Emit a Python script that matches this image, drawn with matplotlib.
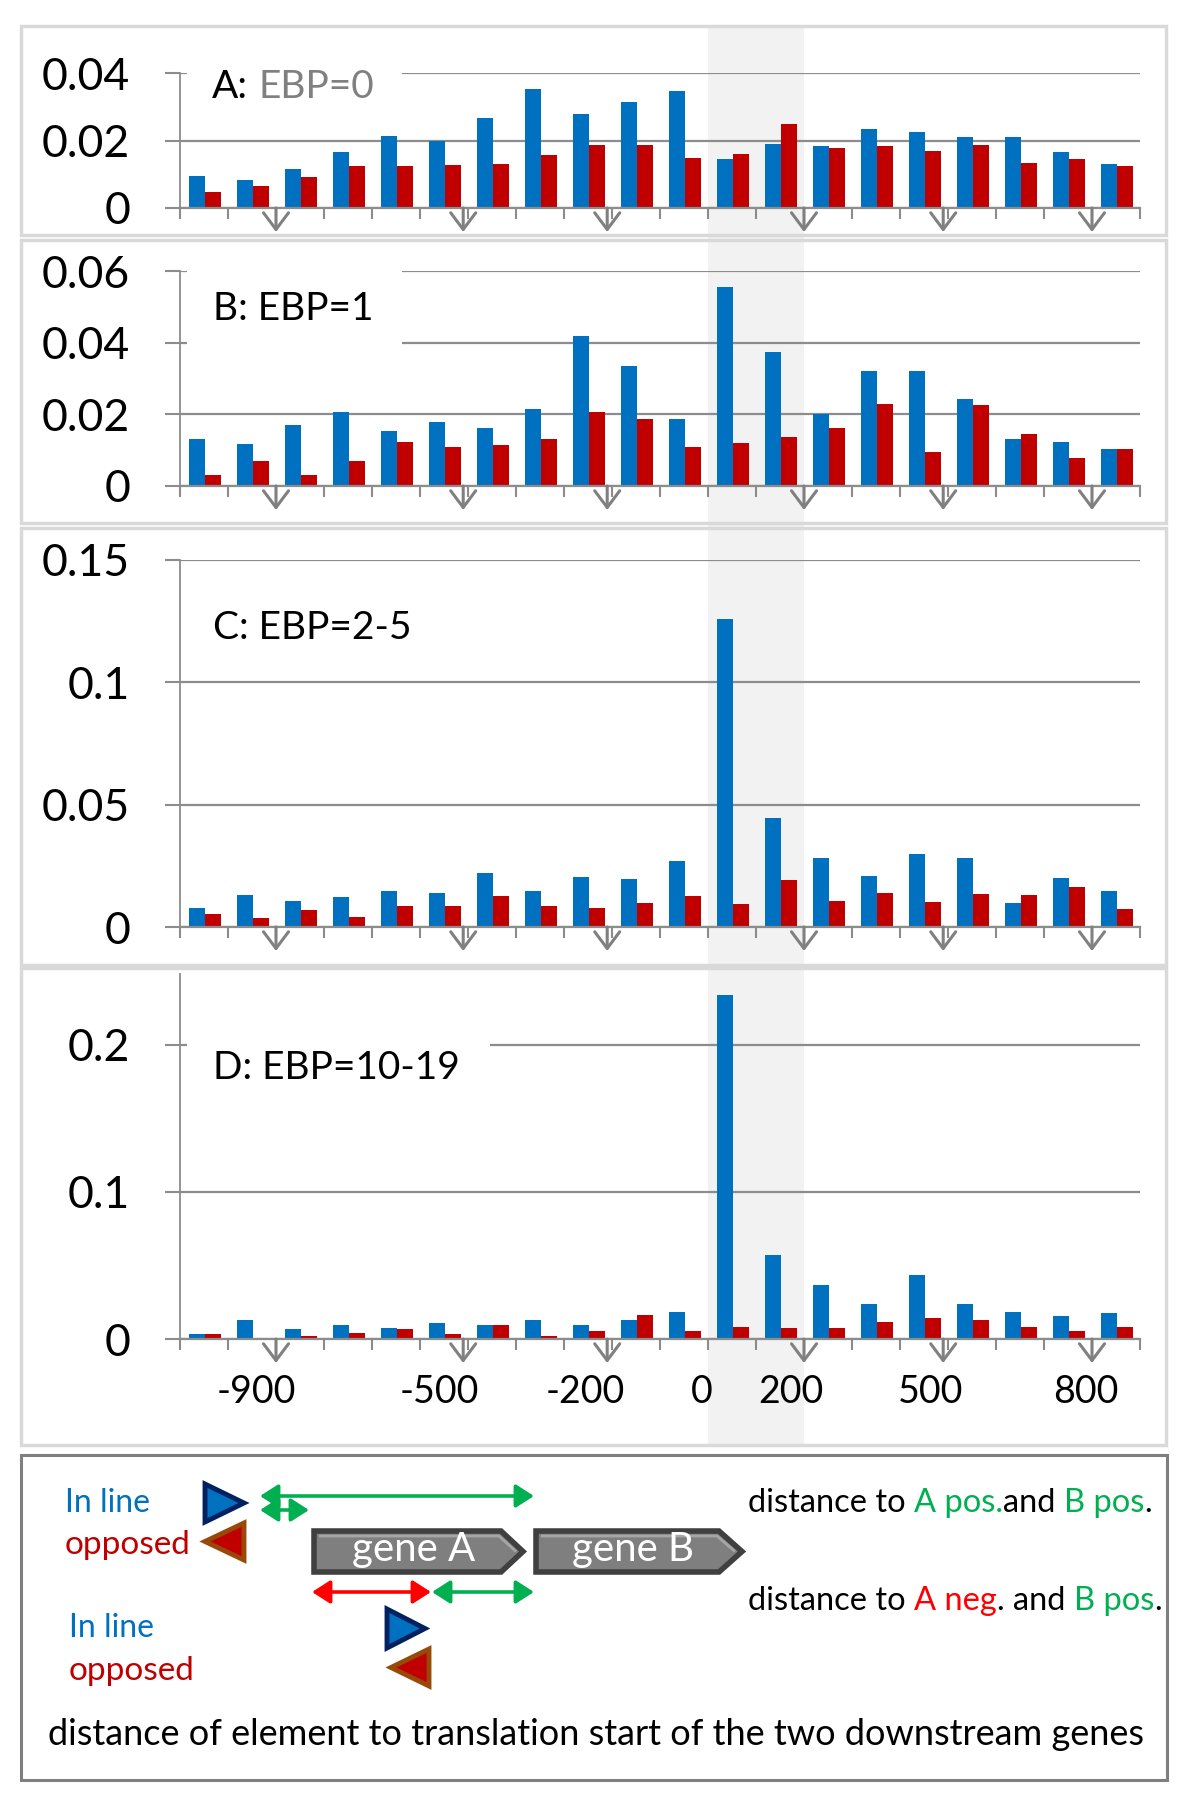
import numpy as np
import matplotlib.pyplot as plt
from matplotlib.patches import Rectangle, Polygon, FancyArrowPatch
from matplotlib.transforms import offset_copy

plt.rcParams['font.family'] = ['Lato', 'DejaVu Sans']

# ---- data (fraction of elements per 100 bp bin) ----
n_bins = 20
inline_A = [0.0095, 0.0084, 0.0116, 0.0167, 0.0214, 0.0198, 0.0266, 0.0352, 0.0278, 0.0314,
            0.0348, 0.0145, 0.0191, 0.0185, 0.0233, 0.0226, 0.0211, 0.0210, 0.0167, 0.0129]
opposed_A = [0.0046, 0.0066, 0.0092, 0.0123, 0.0123, 0.0127, 0.0131, 0.0158, 0.0187, 0.0186,
             0.0149, 0.0159, 0.0249, 0.0178, 0.0185, 0.0170, 0.0187, 0.0134, 0.0145, 0.0125]
inline_B = [0.0131, 0.0118, 0.0171, 0.0207, 0.0153, 0.0180, 0.0162, 0.0215, 0.0418, 0.0335,
            0.0188, 0.0555, 0.0375, 0.0202, 0.0322, 0.0322, 0.0242, 0.0132, 0.0124, 0.0104]
opposed_B = [0.0031, 0.0070, 0.0031, 0.0070, 0.0123, 0.0110, 0.0114, 0.0131, 0.0207, 0.0188,
             0.0110, 0.0119, 0.0137, 0.0162, 0.0229, 0.0096, 0.0225, 0.0145, 0.0078, 0.0104]
inline_C = [0.0076, 0.0129, 0.0108, 0.0121, 0.0149, 0.0139, 0.0221, 0.0149, 0.0206, 0.0198,
            0.0271, 0.1259, 0.0444, 0.0282, 0.0210, 0.0300, 0.0282, 0.0098, 0.0202, 0.0149]
opposed_C = [0.0054, 0.0037, 0.0068, 0.0041, 0.0084, 0.0084, 0.0125, 0.0084, 0.0076, 0.0099,
             0.0125, 0.0094, 0.0193, 0.0108, 0.0139, 0.0104, 0.0134, 0.0129, 0.0162, 0.0072]
inline_D = [0.0032, 0.0127, 0.0068, 0.0093, 0.0077, 0.0109, 0.0095, 0.0129, 0.0093, 0.0127,
            0.0186, 0.2336, 0.0574, 0.0368, 0.0241, 0.0438, 0.0238, 0.0184, 0.0154, 0.0175]
opposed_D = [0.0032, 0.0000, 0.0023, 0.0043, 0.0066, 0.0036, 0.0098, 0.0023, 0.0052, 0.0163,
             0.0057, 0.0082, 0.0075, 0.0075, 0.0118, 0.0145, 0.0127, 0.0082, 0.0057, 0.0082]

titles = [[('A:', 'black'), (' EBP=0', '#808080')],
          [('B: EBP=1', 'black')],
          [('C: EBP=2-5', 'black')],
          [('D: EBP=10-19', 'black')]]
yticks = [[0, 0.02, 0.04], [0, 0.02, 0.04, 0.06], [0, 0.05, 0.1, 0.15], [0, 0.1, 0.2]]
yticklabels = [['0', '0.02', '0.04'], ['0', '0.02', '0.04', '0.06'],
               ['0', '0.05', '0.1', '0.15'], ['0', '0.1', '0.2']]
ytops = [0.04, 0.06, 0.15, 0.248]

xlabel_pos = [1.6, 5.41, 8.45, 10.87, 12.72, 15.64, 18.87]
xlabels = ['-900', '-500', '-200', '0', '200', '500', '800']
arrow_pos = [2, 5.9, 8.9, 13, 15.9, 19]
shade_bins = (11, 13)

blue = '#0070C0'
red = '#C00000'
grey = '#8C8C8C'
green = '#00B050'

W, H = 1200, 1800
fig = plt.figure(figsize=(12, 18), dpi=100)

bg = fig.add_axes([0, 0, 1, 1], zorder=0)
bg.set_xlim(0, W); bg.set_ylim(H, 0); bg.axis('off')
ov = fig.add_axes([0, 0, 1, 1], zorder=2)
ov.set_xlim(0, W); ov.set_ylim(H, 0); ov.axis('off'); ov.patch.set_alpha(0)


def px_axes(left, top, right, bottom):
    a = fig.add_axes([left / W, 1 - bottom / H, (right - left) / W, (bottom - top) / H], zorder=1)
    a.patch.set_alpha(0)
    return a


# layout of the four panels (pixels)
panel_px = [(180, 73, 1140, 208), (180, 271, 1140, 486), (180, 560, 1140, 927), (180, 974, 1140, 1339)]
boxes = [(21, 26, 1166, 235), (21, 240, 1166, 523), (21, 528, 1166, 965), (21, 968, 1166, 1445)]
title_xy = [(212, 98), (213, 320), (213, 639), (213, 1079)]
white_boxes = [(187, 45, 215, 75), (187, 262, 215, 92), None, (187, 1028, 303, 70)]

inline_all = [inline_A, inline_B, inline_C, inline_D]
opposed_all = [opposed_A, opposed_B, opposed_C, opposed_D]

x = np.arange(n_bins) + 0.5
axes = []
for k in range(4):
    ax = px_axes(*panel_px[k])
    axes.append(ax)
    ax.bar(x - 0.15, inline_all[k], width=0.33, color=blue, zorder=2)
    ax.bar(x + 0.18, opposed_all[k], width=0.33, color=red, zorder=2)
    ax.set_xlim(0, n_bins)
    ax.set_ylim(0, ytops[k])
    ax.set_yticks(yticks[k], yticklabels[k])
    ax.set_xticks(np.arange(n_bins + 1))
    ax.set_xticklabels([])
    ax.tick_params(axis='y', length=11, width=1.5, color=grey, pad=25, labelsize=32)
    ax.tick_params(axis='x', which='major', length=8, width=1.5, color=grey, direction='out')
    ax.yaxis.grid(True, color=grey, lw=1.6)
    ax.set_axisbelow(True)
    for s in ['top', 'right']:
        ax.spines[s].set_visible(False)
    ax.spines['left'].set_color(grey); ax.spines['left'].set_linewidth(1.3)
    ax.spines['bottom'].set_color(grey); ax.spines['bottom'].set_linewidth(1.6)
    # open arrows under the axis
    tr = offset_copy(ax.transData, fig=fig, x=0, y=-24, units='dots')
    for b in arrow_pos:
        ax.annotate('', xy=(b, 0), xycoords=tr, xytext=(b, 0), textcoords='data',
                    arrowprops=dict(arrowstyle='->,head_length=0.6,head_width=0.45',
                                    color='#808080', lw=2.2, shrinkA=0, shrinkB=0,
                                    mutation_scale=20),
                    annotation_clip=False)

axes[3].set_xticks(xlabel_pos, xlabels, minor=True)
axes[3].tick_params(axis='x', which='minor', length=0, pad=25, labelsize=27)

# shaded band and panel frames
x0 = axes[0].transData.transform((shade_bins[0], 0))[0]
x1 = axes[0].transData.transform((shade_bins[1], 0))[0]
bg.add_patch(Rectangle((x0, 26), x1 - x0, 1445 - 26, color='#F2F2F2', lw=0))
for (l, t, r, b) in boxes:
    bg.add_patch(Rectangle((l, t), r - l, b - t, fill=False, ec='#D9D9D9', lw=2.5))
bg.add_patch(Rectangle((21, 1455), 1146, 325, fill=False, ec='#7F7F7F', lw=2.2))

fig.canvas.draw()
renderer = fig.canvas.get_renderer()


def seg_text(a, x, y, parts, size):
    t1 = a.text(0, 0, 'a a', fontsize=size)
    t2 = a.text(0, 0, 'aa', fontsize=size)
    sp = t1.get_window_extent(renderer).width - t2.get_window_extent(renderer).width
    t1.remove(); t2.remove()
    for s, c in parts:
        x += (len(s) - len(s.lstrip(' '))) * sp
        t = a.text(x, y, s.strip(' '), color=c, fontsize=size, ha='left', va='baseline')
        x += t.get_window_extent(renderer).width + (len(s) - len(s.rstrip(' '))) * sp


for k in range(4):
    if white_boxes[k] is not None:
        l, t, w, h = white_boxes[k]
        ov.add_patch(Rectangle((l, t), w, h, color='white', lw=0))
    seg_text(ov, title_xy[k][0], title_xy[k][1], titles[k], 28)

# ---- schematic legend ----
def gene(xl, xt, xr, yt, yb, label):
    ym = (yt + yb) / 2
    ov.add_patch(Polygon([(xl, yt), (xt, yt), (xr, ym), (xt, yb), (xl, yb)], closed=True,
                         fc='#7F7F7F', ec='#404040', lw=4, joinstyle='miter'))
    ov.add_patch(Polygon([(xl + 5, yt + 5), (xt - 2, yt + 5), (xr - 7, ym)], closed=False,
                         fill=False, ec='#A6A6A6', lw=2))
    ov.text((xl + xt) / 2 + 6, yb - 11, label, color='white', fontsize=29, ha='center', va='baseline')


gene(314, 501, 523, 1531, 1572, 'gene A')
gene(536, 719, 742, 1531, 1572, 'gene B')


def tri_right(xl, xr, yt, yb):
    ov.add_patch(Polygon([(xl, yt), (xl, yb), (xr, (yt + yb) / 2)], closed=True,
                         fc=blue, ec='#002060', lw=3.5))


def tri_left(xl, xr, yt, yb):
    ov.add_patch(Polygon([(xr, yt), (xr, yb), (xl, (yt + yb) / 2)], closed=True,
                         fc=red, ec='#984807', lw=3.5))


tri_right(205, 244, 1484, 1522)
tri_left(205, 244, 1523, 1560)
tri_right(387, 425, 1609, 1648)
tri_left(391, 429, 1649, 1686)


def dbl(xa, xb, y, c):
    ov.add_patch(FancyArrowPatch((xa, y), (xb, y), arrowstyle='<|-|>,head_length=0.5,head_width=0.32',
                                 mutation_scale=22, color=c, lw=2.6, shrinkA=0, shrinkB=0))


dbl(260, 534, 1496, green)
dbl(260, 309, 1510, green)
dbl(312, 431, 1592, '#FF0000')
dbl(432, 534, 1592, green)

ov.text(65, 1512, 'In line', color=blue, fontsize=23, va='baseline')
ov.text(65, 1554, 'opposed', color=red, fontsize=24, va='baseline')
ov.text(69, 1637, 'In line', color=blue, fontsize=23, va='baseline')
ov.text(69, 1680, 'opposed', color=red, fontsize=24, va='baseline')
seg_text(ov, 748, 1512, [('distance to', 'black'), (' A pos.', green), ('and', 'black'),
                         (' B pos', green), ('.', 'black')], 23.5)
seg_text(ov, 748, 1610, [('distance to', 'black'), (' A neg', '#FF0000'), ('. and', 'black'),
                         (' B pos', green), ('.', 'black')], 23.5)
ov.text(596, 1745, 'distance of element to translation start of the two downstream genes',
        fontsize=26, ha='center', va='baseline')

fig.savefig('out.png', dpi=100)
